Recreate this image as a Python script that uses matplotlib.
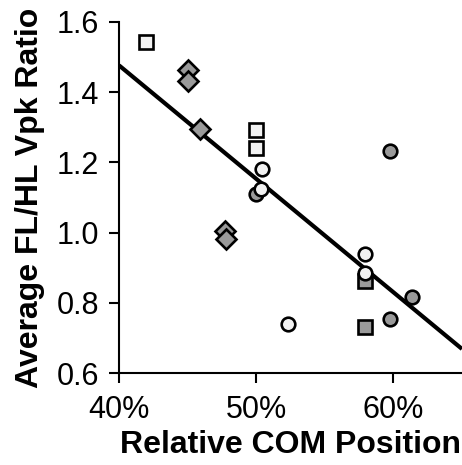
import numpy as np
import matplotlib.pyplot as plt

plt.rcParams['font.family'] = ['Liberation Sans', 'DejaVu Sans']

# relative COM position (%) and average FL/HL Vpk ratio, by marker group
sq_white_x = [41.96, 50.0, 50.0]
sq_white_y = [1.542, 1.293, 1.241]
sq_gray_x = [57.96, 57.96]
sq_gray_y = [0.863, 0.732]
dia_gray_x = [45.04, 45.04, 45.89, 47.7, 47.78]
dia_gray_y = [1.464, 1.432, 1.295, 1.003, 0.983]
circ_gray_x = [50.0, 59.76, 61.36, 59.76]
circ_gray_y = [1.111, 1.232, 0.817, 0.754]
circ_white_x = [50.38, 50.4, 57.96, 57.96, 52.31]
circ_white_y = [1.125, 1.18, 0.938, 0.886, 0.739]

# regression line (value at 40% and slope per %)
fit_at_40 = 1.476
fit_slope = -0.0323

xticks = [40, 50, 60]
xticklabels = ["40%", "50%", "60%"]
yticks = [0.6, 0.8, 1.0, 1.2, 1.4, 1.6]

gray = "#9a9a9a"
white = "#f2f2f2"

fig = plt.figure(figsize=(4.62, 4.65), dpi=100)
ax = fig.add_axes([0.2576, 0.1978, 0.7424, 0.7553])

xl = np.array([40, 65])
ax.plot(xl, fit_at_40 + fit_slope * (xl - 40), color="black", lw=3.0, zorder=2,
        solid_capstyle="butt")

mk = dict(markeredgecolor="black", markeredgewidth=1.9, linestyle="none", zorder=3)
ax.plot(sq_gray_x, sq_gray_y, "s", markersize=9.4, markerfacecolor=gray, **mk)
ax.plot(sq_white_x, sq_white_y, "s", markersize=9.4, markerfacecolor=white, **mk)
ax.plot(dia_gray_x, dia_gray_y, "D", markersize=10.0, markerfacecolor=gray, **mk)
ax.plot(circ_gray_x, circ_gray_y, "o", markersize=9.8, markerfacecolor=gray, **mk)
ax.plot(circ_white_x, circ_white_y, "o", markersize=9.8, markerfacecolor=white, **mk)

ax.set_xlim(40, 65)
ax.set_ylim(0.6, 1.6)
ax.set_xticks(xticks)
ax.set_xticklabels(xticklabels)
ax.set_yticks(yticks)
ax.set_yticklabels(["%.1f" % v for v in yticks])

for s in ["top", "right"]:
    ax.spines[s].set_visible(False)
for s in ["left", "bottom"]:
    ax.spines[s].set_linewidth(1.5)
    ax.spines[s].set_clip_on(False)
ax.tick_params(direction="out", length=7.5, width=1.5, labelsize=22)
ax.tick_params(axis="x", pad=8)
ax.tick_params(axis="y", pad=7)

ax.set_xlabel("Relative COM Position", fontsize=23, fontweight="bold", labelpad=4)
ax.set_ylabel("Average FL/HL Vpk Ratio", fontsize=23, fontweight="bold", labelpad=8)

fig.savefig("out.png", dpi=100)
